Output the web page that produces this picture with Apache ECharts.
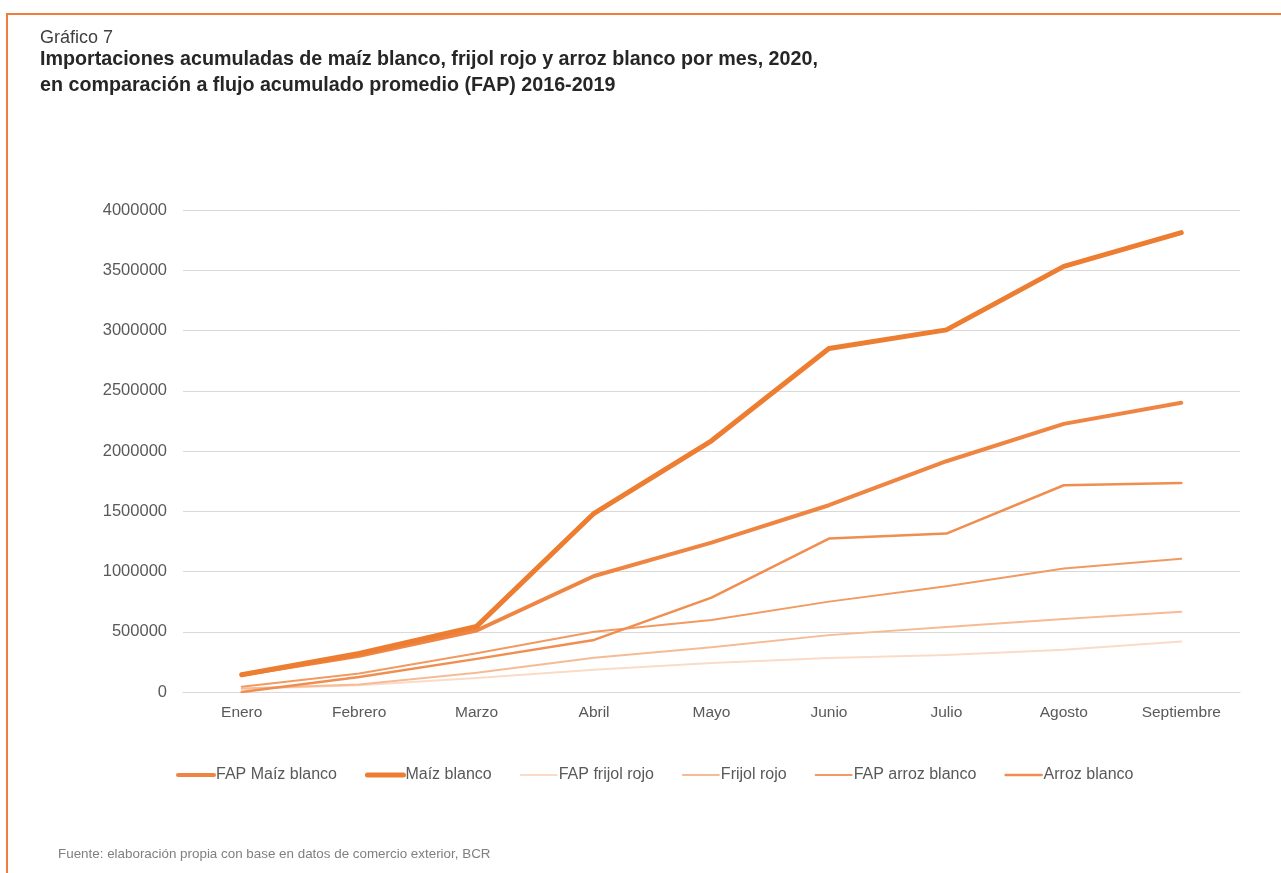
<!DOCTYPE html>
<html>
<head>
<meta charset="utf-8">
<script src="https://cdn.jsdelivr.net/npm/echarts@6/dist/echarts.min.js"></script>
<style>
html,body{margin:0;padding:0;background:#fff;}
#chart{width:1281px;height:873px;}
</style>
</head>
<body>
<div id="chart"></div>
<script>
const months = ['Enero','Febrero','Marzo','Abril','Mayo','Junio','Julio','Agosto','Septiembre'];
const yTicks = [0,500000,1000000,1500000,2000000,2500000,3000000,3500000,4000000];
const fapMaiz    = [143000, 300000, 510000, 963000, 1240000, 1550000, 1915000, 2225000, 2400000];
const maiz       = [143000, 320000, 545000, 1483000, 2085000, 2850000, 3005000, 3532000, 3812000];
const fapFrijol  = [25000, 55000, 116000, 185000, 240000, 282000, 308000, 350000, 420000];
const frijol     = [30000, 62000, 160000, 285000, 372000, 472000, 540000, 605000, 665000];
const fapArroz   = [44000, 153000, 322000, 500000, 597000, 750000, 878000, 1024000, 1106000];
const arroz      = [0, 125000, 275000, 432000, 783000, 1273000, 1315000, 1716000, 1735000];

const seriesDefs = [
  {name:'FAP Maíz blanco', data:fapMaiz, color:'#EF8543', width:4},
  {name:'Maíz blanco', data:maiz, color:'#ED7D31', width:5},
  {name:'FAP frijol rojo', data:fapFrijol, color:'#FADBC7', width:2},
  {name:'Frijol rojo', data:frijol, color:'#F6BB94', width:2},
  {name:'FAP arroz blanco', data:fapArroz, color:'#F19A62', width:2},
  {name:'Arroz blanco', data:arroz, color:'#F08E50', width:2.5}
];

const chart = echarts.init(document.getElementById('chart'), null, {renderer:'canvas'});
const font = '"Liberation Sans", Arial, sans-serif';
chart.setOption({
  animation:false,
  backgroundColor:'#fff',
  textStyle:{fontFamily:font},
  title:[
    {text:'Gráfico 7', left:35, top:24, textStyle:{fontSize:18, fontWeight:'normal', color:'#404040', fontFamily:font}},
    {text:'Importaciones acumuladas de maíz blanco, frijol rojo y arroz blanco por mes, 2020,\nen comparación a flujo acumulado promedio (FAP) 2016-2019',
     left:35, top:42, textStyle:{fontSize:19.7, fontWeight:'bold', color:'#262626', lineHeight:26, fontFamily:font}},
    {text:'Fuente: elaboración propia con base en datos de comercio exterior, BCR', left:53, top:843,
     textStyle:{fontSize:13.4, fontWeight:'normal', color:'#808080', fontFamily:font}}
  ],
  graphic:[
    {type:'line', shape:{x1:6, y1:14, x2:1281, y2:14}, style:{stroke:'#F07C3E', lineWidth:2}},
    {type:'line', shape:{x1:7, y1:13, x2:7, y2:873}, style:{stroke:'#F07C3E', lineWidth:2}}
  ],
  grid:{left:183, top:210, width:1057, height:482, containLabel:false},
  legend:{
    left:171, top:762, itemWidth:36, itemHeight:14, itemGap:28,
    itemStyle:{color:'rgba(0,0,0,0)', borderWidth:0, opacity:0},
    textStyle:{fontSize:16, color:'#595959', fontFamily:font, padding:[0,0,0,-3]},
    data:seriesDefs.map(s=>({name:s.name, lineStyle:{width:s.width, color:s.color}}))
  },
  xAxis:{
    type:'category', data:months, boundaryGap:true,
    axisTick:{show:false},
    axisLine:{lineStyle:{color:'#D9D9D9', width:1}},
    axisLabel:{fontSize:15.5, color:'#595959', margin:13, fontFamily:font}
  },
  yAxis:{
    type:'value', min:0, max:4000000, interval:500000,
    axisLine:{show:false}, axisTick:{show:false},
    splitLine:{lineStyle:{color:'#D9D9D9', width:1}},
    axisLabel:{fontSize:16.5, color:'#595959', margin:16, fontFamily:font, formatter:v=>String(v)}
  },
  series:seriesDefs.map(s=>({
    name:s.name, type:'line', data:s.data, symbol:'none', smooth:false,
    color:s.color,
    lineStyle:{color:s.color, width:s.width, join:'round', cap:'round'},
    itemStyle:{color:s.color}
  }))
});
</script>
</body>
</html>
